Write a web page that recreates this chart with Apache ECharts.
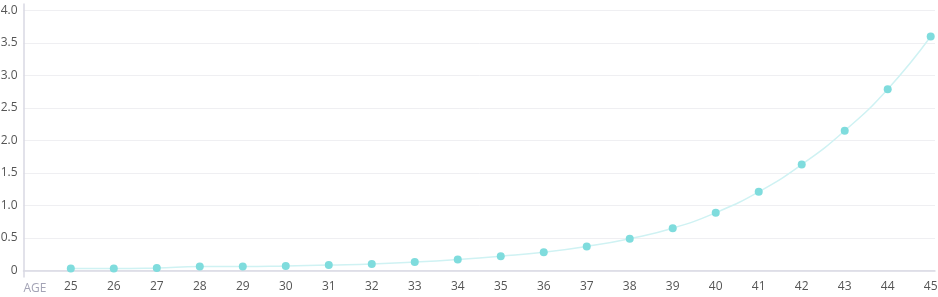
<!DOCTYPE html>
<html>
<head>
<meta charset="utf-8">
<script src="https://cdn.jsdelivr.net/npm/echarts@6/dist/echarts.min.js"></script>
<style>
html,body{margin:0;padding:0;background:#fff;}
#c{width:938px;height:297px;}
</style>
</head>
<body>
<div id="c"></div>
<script>
var ages = [25,26,27,28,29,30,31,32,33,34,35,36,37,38,39,40,41,42,43,44,45];
var values = [0.03,0.03,0.04,0.06,0.06,0.07,0.085,0.10,0.13,0.17,0.22,0.28,0.37,0.49,0.65,0.89,1.21,1.63,2.15,2.79,3.60];
var yTicks = [0,0.5,1.0,1.5,2.0,2.5,3.0,3.5,4.0];
var xName = 'AGE';

var chart = echarts.init(document.getElementById('c'), null, {renderer:'canvas'});
var fontFamily = '"Open Sans", "Noto Sans", sans-serif';
chart.setOption({
  animation:false,
  grid:{left:23.5, right:3, top:4, bottom:20, containLabel:false, outerBoundsMode:'none'},
  xAxis:{
    type:'value', min:23.9, max:45.1,
    name:xName, nameLocation:'start', nameGap:0,
    nameTextStyle:{color:'#a3a3b5', fontSize:12, fontFamily:fontFamily, align:'left', verticalAlign:'top', padding:[12,0,0,0]},
    axisLine:{show:true, lineStyle:{color:'#d9d9e3', width:1.5}},
    axisTick:{show:false, customValues:ages},
    splitLine:{show:false},
    axisLabel:{customValues:ages, color:'#555', fontSize:12, fontFamily:fontFamily, margin:4,
      formatter:function(v){return String(Math.round(v));}}
  },
  yAxis:{
    type:'value', min:-0.1, max:4.1,
    axisLine:{show:true, lineStyle:{color:'#d9d9e3', width:1.5}},
    axisTick:{show:false, customValues:yTicks},
    splitLine:{show:true, lineStyle:{color:'#efeff2', width:1}},
    axisLabel:{customValues:yTicks, color:'#555', fontSize:12, fontFamily:fontFamily, margin:6,
      formatter:function(v){return v===0?'0':v.toFixed(1);}}
  },
  series:[{
    type:'line',
    data:ages.map(function(a,i){return [a, values[i]];}),
    smooth:true,
    symbol:'circle', symbolSize:8,
    itemStyle:{color:'#7fdcdd'},
    lineStyle:{color:'#cff2f3', width:1.5}
  }]
});
</script>
</body>
</html>
